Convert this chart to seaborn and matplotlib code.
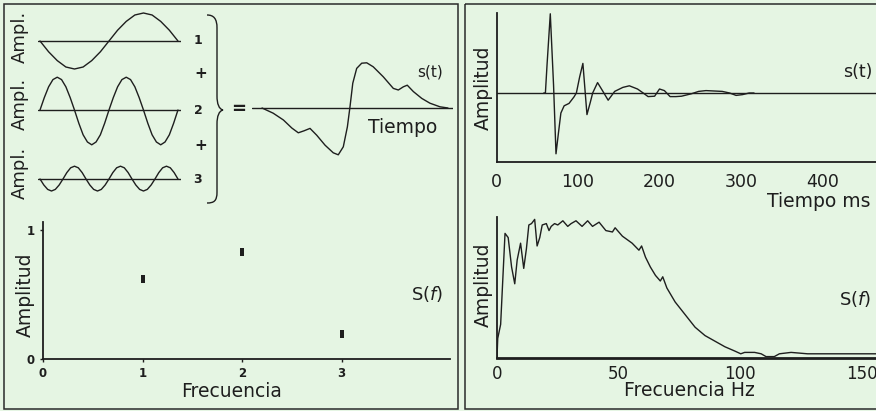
import numpy as np
import matplotlib.pyplot as plt
import matplotlib.patches as mpatches
from matplotlib.path import Path
import seaborn as sns

BG = "#e5f5e3"
INK = "#1e1e1e"

# --- data ------------------------------------------------------------------
# the three harmonic components (samples along each trace, left to right)
comp1_amp = [0, -0.27, -0.49, -0.65, -0.70, -0.65, -0.49, -0.27, 0,
             0.27, 0.49, 0.65, 0.70, 0.65, 0.49, 0.27, 0]
comp2_amp = [0, 0.31, 0.58, 0.76, 0.82, 0.76, 0.58, 0.31, 0,
             -0.33, -0.62, -0.80, -0.87, -0.80, -0.62, -0.33,
             0, 0.31, 0.58, 0.76, 0.82, 0.76, 0.58, 0.31, 0,
             -0.33, -0.62, -0.80, -0.87, -0.80, -0.62, -0.33, 0]
comp3_amp = [0, -0.15, -0.26, -0.30, -0.26, -0.15, 0, 0.16, 0.28, 0.32, 0.28, 0.16,
             0, -0.15, -0.26, -0.30, -0.26, -0.15, 0, 0.16, 0.28, 0.32, 0.28, 0.16,
             0, -0.15, -0.26, -0.30, -0.26, -0.15, 0, 0.16, 0.28, 0.32, 0.28, 0.16, 0]

# their sum s(t)
sum_t = [0.00, 0.06, 0.115, 0.16, 0.195, 0.226, 0.258, 0.294, 0.339, 0.383,
         0.41, 0.437, 0.459, 0.473, 0.488, 0.509, 0.536, 0.563, 0.598, 0.652,
         0.706, 0.733, 0.76, 0.781, 0.814, 0.859, 0.903, 0.957, 1.0]
sum_amp = [0, -0.13, -0.30, -0.50, -0.62, -0.57, -0.51, -0.68, -0.93, -1.12,
           -1.17, -0.97, -0.47, 0.03, 0.62, 0.99, 1.12, 1.13, 1.03, 0.78,
           0.49, 0.45, 0.53, 0.57, 0.41, 0.24, 0.12, 0.03, 0]

# line spectrum of the three components
spec_freq = [1, 2, 3]
spec_amp = [0.62, 0.83, 0.19]

# recorded signal s(t), ms
sig_ms = [58, 60, 62, 66, 70, 73, 76, 79, 83, 89, 95, 98, 102, 106, 111, 115,
          118, 124, 130, 137, 145, 155, 163, 173, 180, 186, 194, 200, 206, 213,
          220, 227, 239, 248, 257, 267, 277, 286, 294, 302, 310, 316]
sig_amp = [0, 0, 0.35, 0.99, 0.1, -0.76, -0.5, -0.25, -0.16, -0.13, -0.05, 0,
           0.2, 0.37, -0.27, -0.12, 0, 0.13, 0.03, -0.09, 0.02, 0.07, 0.09, 0.05,
           0.0, -0.045, -0.04, 0.05, 0.03, -0.045, -0.045, -0.04, -0.01, 0.02,
           0.03, 0.025, 0.02, 0, -0.03, -0.02, 0, 0]
sig_ticks = [0, 100, 200, 300, 400]

# its amplitude spectrum, Hz
fft_hz = [0, 0.3, 1.5, 2.3, 3.3, 4.6, 6.0, 7.3, 8.3, 9.7, 11.0, 12.1, 13.1, 14.2,
          15.5, 16.5, 17.6, 18.6, 20.3, 21.4, 22.3, 23.7, 25.0, 27.1, 29.1, 30.5,
          32.5, 35.0, 37.3, 39.3, 42.0, 44.8, 47.5, 48.6, 51.6, 55.6, 58.4, 59.5,
          61.1, 63.1, 65.2, 67.2, 68.2, 69.9, 73.3, 77.4, 81.5, 85.6, 89.7, 93.8,
          97.8, 100.3, 101.9, 106.0, 108.7, 110.7, 114.1, 116.2, 121.0, 127.8,
          134.6, 141.4, 148.2, 155.0, 165.0]
fft_amp = [0.0, 0.14, 0.24, 0.53, 0.89, 0.86, 0.65, 0.53, 0.70, 0.82, 0.64, 0.78,
           0.95, 0.96, 0.99, 0.80, 0.86, 0.95, 0.96, 0.91, 0.94, 0.96, 0.95, 0.98,
           0.94, 0.96, 0.98, 0.94, 0.98, 0.94, 0.97, 0.91, 0.90, 0.93, 0.87, 0.82,
           0.77, 0.80, 0.72, 0.65, 0.59, 0.55, 0.58, 0.50, 0.40, 0.31, 0.22, 0.16,
           0.12, 0.08, 0.05, 0.03, 0.04, 0.04, 0.03, 0.01, 0.01, 0.03, 0.04, 0.03,
           0.03, 0.03, 0.03, 0.03, 0.03]
fft_ticks = [0, 50, 100, 150]

W, H = 876, 411


def px_axes(fig, left, top, right, bottom):
    """add an axes given in pixel coordinates (origin top-left)"""
    ax = fig.add_axes([left / W, 1 - bottom / H, (right - left) / W, (bottom - top) / H])
    ax.set_facecolor("none")
    return ax


def line(ax, x, y, lw=1.0):
    sns.lineplot(x=x, y=y, ax=ax, color=INK, lw=lw, estimator=None, sort=False)


sns.set_theme(style="ticks")
plt.rcParams["font.family"] = ["DejaVu Sans"]
plt.rcParams["text.color"] = INK
plt.rcParams["axes.labelcolor"] = INK
plt.rcParams["xtick.color"] = INK
plt.rcParams["ytick.color"] = INK

fig = plt.figure(figsize=(W / 100, H / 100), dpi=100)
fig.patch.set_facecolor(BG)

# overlay for frames and annotations, in pixel units
ov = px_axes(fig, 0, 0, W, H)
ov.set_xlim(0, W)
ov.set_ylim(H, 0)
ov.axis("off")
ov.add_patch(mpatches.Rectangle((4, 4), 453.5, 405, fill=False, lw=1.1, ec="#2a2a2a"))
ov.add_patch(mpatches.Rectangle((465, 4), 430, 405, fill=False, lw=1.1, ec="#2a2a2a"))

# brace
brace = Path([(207, 15), (214, 15), (217, 19), (217, 28),
              (217, 96),
              (217, 104), (219, 109), (223, 110),
              (219, 111), (217, 116), (217, 124),
              (217, 192),
              (217, 201), (214, 203), (207, 203)],
             [Path.MOVETO, Path.CURVE4, Path.CURVE4, Path.CURVE4,
              Path.LINETO,
              Path.CURVE4, Path.CURVE4, Path.CURVE4,
              Path.CURVE4, Path.CURVE4, Path.CURVE4,
              Path.LINETO,
              Path.CURVE4, Path.CURVE4, Path.CURVE4])
ov.add_patch(mpatches.PathPatch(brace, fill=False, lw=1.0, ec=INK))

for yc in (37, 104, 173):
    ov.text(20, yc, "Ampl.", rotation=90, ha="center", va="center", fontsize=13)
for yc, lab in zip((41, 110, 179), ("1", "2", "3")):
    ov.text(198, yc, lab, ha="center", va="center", fontsize=9, fontweight="bold")
for yc in (73, 145):
    ov.text(201, yc, "+", ha="center", va="center", fontsize=11, fontweight="bold")
ov.text(239, 109, "=", ha="center", va="center", fontsize=13, fontweight="bold")
ov.text(430, 72, "s(t)", ha="center", va="center", fontsize=11)
ov.text(403, 127, "Tiempo", ha="center", va="center", fontsize=13.5)
ov.text(427, 294, "S($f$)", ha="center", va="center", fontsize=13)
ov.text(858, 72, "s(t)", ha="center", va="center", fontsize=12.5)
ov.text(855, 299, "S($f$)", ha="center", va="center", fontsize=13)

# component traces
for amp, y0 in zip((comp1_amp, comp2_amp, comp3_amp), (41, 110, 179)):
    ax = px_axes(fig, 38, y0 - 40, 181, y0 + 40)
    ax.set_xlim(-0.0145, 1.022)
    ax.set_ylim(-1, 1)
    ax.axhline(0, color=INK, lw=1.0)
    line(ax, np.linspace(0, 1, len(amp)), amp)
    ax.axis("off")

# their sum
ax = px_axes(fig, 252, 48, 453, 168)
ax.set_xlim(-0.054, 1.027)
ax.set_ylim(-1.5, 1.5)
ax.axhline(0, color=INK, lw=1.0)
line(ax, sum_t, sum_amp)
ax.axis("off")

# line spectrum
ax = px_axes(fig, 43, 222, 450, 359)
rect = [(-0.5, -1), (0.5, -1), (0.5, 1), (-0.5, 1)]
sns.scatterplot(x=spec_freq, y=spec_amp, ax=ax, marker=rect, s=36, color=INK, linewidth=0)
ax.set_xlim(0, 4.09)
ax.set_ylim(0, 1.062)
ax.set_xticks([0, 1, 2, 3])
ax.set_yticks([0, 1])
ax.tick_params(length=2, width=1, labelsize=8.5, pad=4)
for lab in ax.get_xticklabels() + ax.get_yticklabels():
    lab.set_fontweight("bold")
sns.despine(ax=ax)
for s in ("left", "bottom"):
    ax.spines[s].set_linewidth(1.3)
    ax.spines[s].set_color(INK)
ax.set_ylabel("Amplitud", fontsize=13.5)
ax.yaxis.set_label_coords(-0.02, 0.467)
ax.set_xlabel("Frecuencia", fontsize=13.5)
ax.xaxis.set_label_coords(0.464, -0.17)

# recorded signal
ax = px_axes(fig, 496.5, 13, 904, 162)
ax.axhline(0, color=INK, lw=1.0)
line(ax, sig_ms, sig_amp)
ax.set_xlim(0, 500)
ax.set_ylim(-0.8625, 1.0)
ax.set_xticks(sig_ticks)
ax.set_yticks([])
ax.tick_params(length=0, labelsize=12.5, pad=8)
sns.despine(ax=ax)
for s in ("left", "bottom"):
    ax.spines[s].set_linewidth(1.3)
    ax.spines[s].set_color(INK)
ax.set_ylabel("Amplitud", fontsize=13.5)
ax.yaxis.set_label_coords(-0.009, 0.5)
ax.set_xlabel("Tiempo ms", fontsize=13.5)
ax.xaxis.set_label_coords(0.79, -0.2)

# its spectrum
ax = px_axes(fig, 497, 217, 898, 358)
line(ax, fft_hz, fft_amp)
ax.set_xlim(0, 165)
ax.set_ylim(0, 1.007)
ax.set_xticks(fft_ticks)
ax.set_yticks([])
ax.tick_params(length=0, labelsize=12, pad=5)
sns.despine(ax=ax)
ax.spines["left"].set_linewidth(1.3)
ax.spines["bottom"].set_linewidth(2.0)
for s in ("left", "bottom"):
    ax.spines[s].set_color(INK)
ax.set_ylabel("Amplitud", fontsize=13.5)
ax.yaxis.set_label_coords(-0.01, 0.518)
ax.set_xlabel("Frecuencia Hz", fontsize=13.5)
ax.xaxis.set_label_coords(0.479, -0.165)

fig.savefig("out.png", dpi=100, facecolor=BG)
